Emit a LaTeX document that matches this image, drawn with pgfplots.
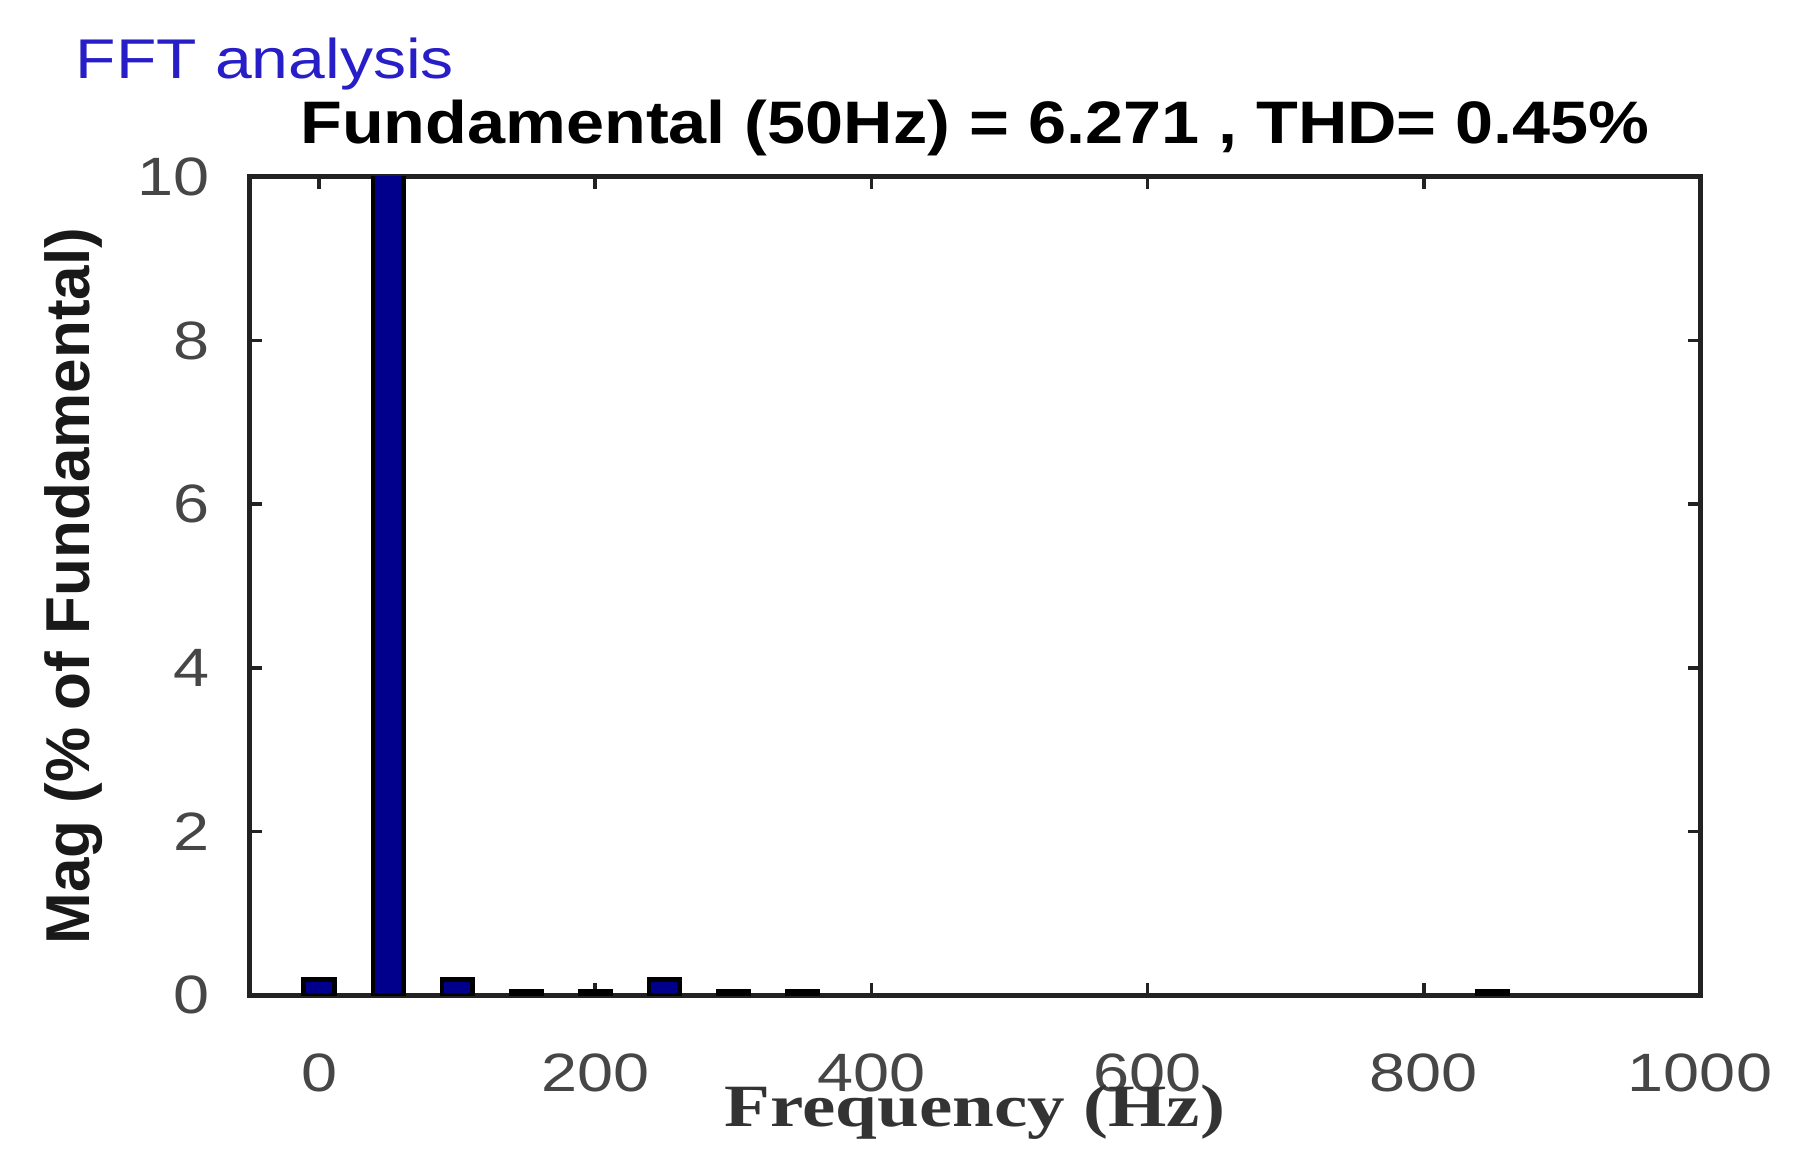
\documentclass[border=0pt]{standalone}
\usepackage{fontspec}
\setmainfont{Liberation Sans}
\newfontfamily\serifb{Liberation Serif}
\usepackage{graphicx}
\usepackage{pgfplots}
\pgfplotsset{compat=1.18}
\definecolor{barblue}{RGB}{0,0,140}
\definecolor{fftblue}{RGB}{40,30,200}
\definecolor{axgray}{RGB}{34,34,34}
\definecolor{lblgray}{RGB}{70,70,70}
\begin{document}
\begin{tikzpicture}
\useasboundingbox (-62.5pt,-43.25pt) rectangle (390.25pt,248.75pt);
\begin{axis}[
  scale only axis,
  width=362.5pt, height=204.5pt,
  xmin=-50, xmax=1000, ymin=0, ymax=10,
  xtick={0,200,400,600,800,1000},
  ytick={0,2,4,6,8,10},
  tick pos=both, tick align=inside,
  major tick length=3pt,
  every tick/.style={axgray, line width=0.9pt},
  axis line style={axgray, line width=1.25pt},
  /pgf/number format/assume math mode=true,
  /pgf/number format/1000 sep={},
  tick label style={lblgray, font=\fontsize{13.5}{14}\selectfont, inner sep=0pt},
  xticklabel={\scalebox{1.2}[1]{\pgfmathprintnumber{\tick}}},
  yticklabel={\scalebox{1.2}[1]{\pgfmathprintnumber{\tick}}},
  xticklabel style={anchor=north, yshift=-14.5pt},
  yticklabel style={anchor=east, xshift=-10pt},
  xlabel={\scalebox{1.25}[1]{\serifb\bfseries Frequency (Hz)}},
  xlabel style={at={(axis description cs:0.5,0)}, anchor=base, yshift=-32.75pt, font=\fontsize{15}{16}\selectfont, color=black!80, inner sep=0pt},
  ylabel={\bfseries Mag (\% of Fundamental)},
  ylabel style={at={(axis description cs:-0.122,0.5)}, anchor=center, font=\fontsize{15.5}{16}\selectfont, color=black!90, inner sep=0pt},
  title={\scalebox{1.14}[1]{\bfseries Fundamental (50Hz) = 6.271 , THD= 0.45\%}},
  every axis title/.style={at={(axis description cs:0.5,1)}, anchor=base, yshift=8.25pt, font=\fontsize{15}{16}\selectfont, inner sep=0pt},
]
\addplot[ybar, bar width=22, fill=barblue, draw=black, line width=1.2pt] coordinates {
  (0,0.19) (50,100) (100,0.19) (150,0.04) (200,0.04) (250,0.19) (300,0.04) (350,0.04) (850,0.04)
};
\end{axis}
\path (current axis.north west) ++(-43.75pt,24.5pt) node[anchor=base west, inner sep=0pt, fftblue, font=\fontsize{14}{15}\selectfont] {\scalebox{1.18}[1]{FFT analysis}};
\end{tikzpicture}
\end{document}
